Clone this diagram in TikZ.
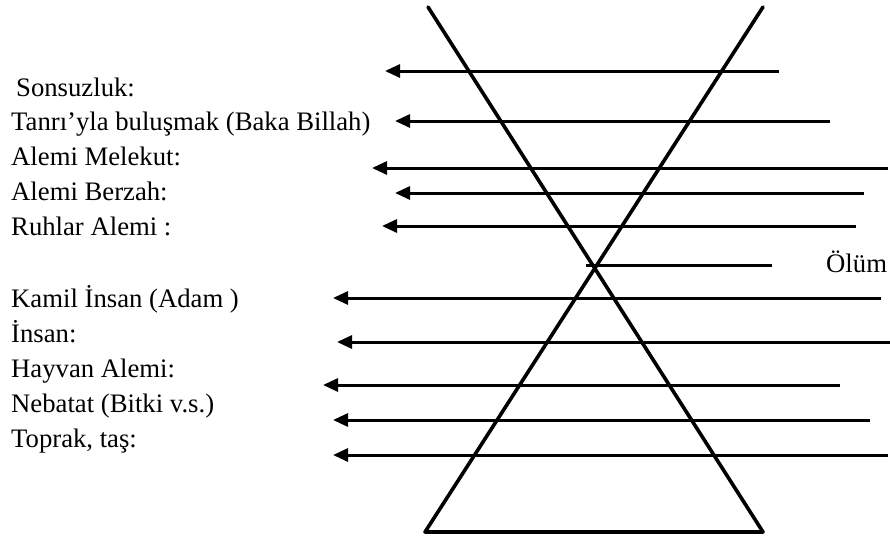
\documentclass[tikz,border=0pt]{standalone}
\usepackage{fontspec}
\setmainfont{Liberation Serif}
\usetikzlibrary{arrows.meta}

\tikzset{
  level/.style={anchor=base west, inner sep=0pt, font=\fontsize{26.7}{30}\selectfont},
  ray/.style={line width=3pt, -{Triangle[length=15pt,width=13pt]}},
  cone/.style={line width=3.6pt, line join=round, line cap=round}
}

\begin{document}
\begin{tikzpicture}[x=1pt,y=-1pt]
		\useasboundingbox (0,0) rectangle (890,539);

		% Labels of the upper levels
		\node[level] (sonsuz) at (16,96) {Sonsuzluk:};
		\node[level] (baka) at (11,130) {Tanrı’yla buluşmak (Baka Billah)};
		\node[level] (melekut) at (11,165) {Alemi Melekut:};
		\node[level] (berzah) at (11,200) {Alemi Berzah:};
		\node[level] (ruhlar) at (11,235) {Ruhlar Alemi :};

		% Labels of the lower levels
		\node[level] (kamil) at (11,307) {Kamil İnsan (Adam )};
		\node[level] (insan) at (11,342) {İnsan:};
		\node[level] (hayvan) at (11,377) {Hayvan Alemi:};
		\node[level] (nebatat) at (11,412) {Nebatat (Bitki v.s.)};
		\node[level] (toprak) at (11,447) {Toprak, taş:};

		% The two cones
		\coordinate (tl) at (428,7);
		\coordinate (tr) at (763,7);
		\coordinate (bl) at (425,532);
		\coordinate (br) at (763,532);
		\draw[cone] (tl) -- (br) -- (bl) -- (tr);

		% Arrows pointing to the levels
		\foreach \n/\y/\xs/\xt in {a/71/779/385, b/121/830/395, c/168/888/372, d/193/864/395, e/226/856/382,
		                           f/298/881/333, g/342/890/337, h/385/840/323, i/420/870/333, j/455/888/333} {
			\coordinate (\n s) at (\xs,\y);
			\coordinate (\n t) at (\xt,\y);
			\draw[ray] (\n s) -- (\n t);
		}

		% Death at the neck
		\coordinate (neck) at (586,265);
		\coordinate (neckend) at (772,265);
		\draw[line width=3pt] (neck) -- (neckend);
		\node[level] (olum) at (826,272) {Ölüm};
	\end{tikzpicture}
\end{document}
